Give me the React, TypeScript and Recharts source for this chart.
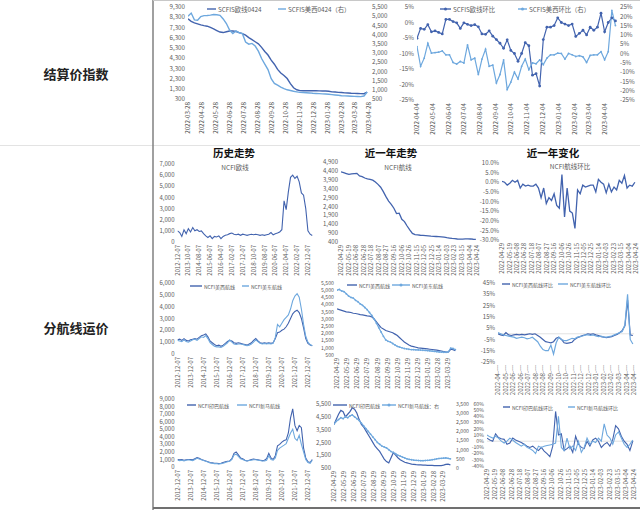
import React from 'react'
import { LineChart, Line, XAxis, YAxis, ReferenceLine } from 'recharts'

const DARK = '#4263ae'
const LIGHT = '#6ea8de'
const GRAY = '#595959'
const FONT = '"Noto Sans CJK SC", "Noto Sans", sans-serif'

// date helpers (day numbers)
const day = (s: string) => {
  const [y, m, d] = s.split('-').map(Number)
  return Date.UTC(y, m - 1, d) / 86400000
}
const fmtDay = (n: number) => new Date(n * 86400000).toISOString().slice(0, 10)
const weekly = (start: string, n: number) => Array.from({ length: n }, (_, i) => day(start) + 7 * i)
const everyMonths = (start: string, step: number, n: number) => {
  const [y, m, d] = start.split('-').map(Number)
  return Array.from({ length: n }, (_, i) => Date.UTC(y, m - 1 + step * i, d) / 86400000)
}

// ---- SCFIS settlement index ----
const scfisTicks = ['2022-03-28', '2022-04-28', '2022-05-28', '2022-06-28', '2022-07-28', '2022-08-28', '2022-09-28', '2022-10-28', '2022-11-28', '2022-12-28', '2023-01-28', '2023-02-28', '2023-03-28', '2023-04-28']
const scfisDates = weekly('2022-03-28', 57)
const scfisEu = [8150, 7900, 7750, 7650, 7550, 7480, 7420, 7300, 7150, 7000, 6850, 6800, 6880, 6950, 6950, 6900, 6800, 6700, 6550, 6300, 6100, 5900, 5700, 5350, 4950, 4600, 4100, 3700, 3200, 2850, 2600, 2300, 1800, 1400, 1200, 1120, 1100, 1100, 1100, 1110, 1100, 1090, 1080, 1080, 1060, 1000, 980, 950, 940, 900, 880, 860, 850, 840, 830, 820, 980]
const scfisUs = [5000, 5170, 4800, 4780, 4980, 5030, 5040, 5060, 5090, 5080, 5050, 4850, 4600, 4250, 4060, 4200, 4100, 4050, 3600, 3480, 3520, 3380, 3100, 2700, 2400, 2100, 1600, 1350, 1250, 1150, 1060, 1000, 960, 920, 890, 860, 850, 840, 830, 810, 800, 790, 780, 770, 760, 740, 720, 700, 680, 670, 660, 650, 640, 635, 630, 660, 880]

const chgTicks = ['2022-04-04', '2022-05-04', '2022-06-04', '2022-07-04', '2022-08-04', '2022-09-04', '2022-10-04', '2022-11-04', '2022-12-04', '2023-01-04', '2023-02-04', '2023-03-04', '2023-04-04']
const chgDates = weekly('2022-04-04', 56)
const scfisEuChg = [-5.1, -1.9, -2.2, -0.7, -3, -2.7, -3.2, -3.7, 1, 1, 0.3, -0.1, -1.9, -0.1, -0.6, -1, -0.7, -1.4, -3.7, -3.8, -2.7, -4.4, -5.5, -6.7, -8.3, -5.6, -9, -10, -12.5, -10, -6.5, -7.5, -17, -16.5, -20.5, -5.5, -1.5, -1.5, -1, 1.5, 0, -0.5, -1, -0.5, -4.5, -3.5, -2.5, -4, -1.5, -2.5, -1.5, 3, -3, 0, 1.5, 0.5]
const scfisUsChg = [3.7, -6.9, -2.5, 5.5, 0.2, 0.5, 0.7, 1.4, -0.7, -0.7, -4.8, -5.7, -4.3, -5.1, 4.6, -3.4, -2.5, -11.3, -3, 2.3, -6.9, -6.2, -15.8, -11.3, -3.4, -19.3, -15.4, -10, -13.7, -6.9, -3, -8.7, -5, -5.5, -3.4, -6, -2.5, -0.7, -0.7, 0.2, 0, -3, 0, -0.7, -1.6, -1.2, -1.8, -4.8, -1, -0.7, -0.7, 1, -3.4, 1, 23.2, 15]

// ---- NCFI history (every two months) ----
const histDates = everyMonths('2012-12-07', 2, 63)
const histTicksEu = ['2012-12-07', '2013-10-07', '2014-08-07', '2015-06-07', '2016-04-07', '2017-02-07', '2017-12-07', '2018-10-07', '2019-08-07', '2020-06-07', '2021-04-07', '2022-02-07', '2022-12-07']
const histTicks = ['2012-12-07', '2013-12-07', '2014-12-07', '2015-12-07', '2016-12-07', '2017-12-07', '2018-12-07', '2019-12-07', '2020-12-07', '2021-12-07', '2022-12-07']
const euHist = [1000, 850, 500, 1100, 750, 1200, 900, 1300, 1000, 1100, 950, 1000, 750, 550, 400, 550, 300, 500, 450, 550, 300, 500, 600, 650, 750, 800, 700, 650, 700, 600, 700, 650, 600, 650, 700, 650, 700, 650, 600, 650, 600, 650, 700, 850, 650, 750, 800, 900, 1100, 3700, 2900, 4500, 5800, 6000, 5700, 5900, 5400, 4400, 4200, 3000, 1000, 700, 580]
const usWHist = [1200, 1250, 1150, 1300, 1150, 1100, 1200, 1250, 1300, 1250, 1400, 1550, 1600, 1700, 1450, 1100, 950, 800, 700, 750, 650, 750, 900, 1050, 1150, 1100, 950, 900, 950, 900, 850, 800, 750, 850, 950, 1150, 1300, 1100, 950, 900, 950, 900, 950, 900, 950, 1300, 1800, 1850, 2000, 2100, 2300, 2600, 3000, 3400, 3600, 3700, 3500, 3000, 2200, 1300, 900, 750, 700]
const usEHist = [1150, 1100, 1050, 1200, 1050, 1000, 1100, 1200, 1250, 1150, 1300, 1450, 1400, 1550, 1300, 950, 800, 650, 600, 600, 550, 650, 800, 950, 1200, 1000, 850, 800, 850, 850, 800, 750, 700, 750, 850, 1000, 1200, 1050, 900, 850, 900, 850, 900, 850, 900, 1400, 2500, 2300, 2600, 2900, 3100, 3300, 3800, 4500, 4900, 5100, 4800, 3800, 2500, 1500, 1000, 800, 700]
const inHist = [1000, 950, 1000, 900, 950, 1000, 1000, 950, 1100, 1250, 1150, 1000, 900, 800, 700, 600, 550, 500, 500, 450, 500, 600, 700, 750, 800, 1100, 1800, 2000, 1600, 1200, 1100, 900, 800, 900, 1000, 1050, 1000, 950, 900, 850, 900, 1100, 1800, 1200, 1000, 1500, 2800, 3000, 3300, 3500, 3600, 4500, 6500, 7700, 5500, 4800, 5500, 5200, 2500, 1200, 700, 600, 1000]
const smHist = [900, 850, 900, 800, 900, 950, 900, 850, 1000, 1150, 1050, 950, 850, 750, 650, 550, 500, 450, 450, 400, 450, 500, 600, 700, 750, 1000, 1600, 1700, 1400, 1100, 1000, 850, 800, 850, 900, 950, 950, 900, 850, 800, 800, 900, 1500, 1000, 900, 1200, 2200, 2500, 2700, 2900, 3100, 3800, 4500, 5000, 3800, 3500, 4200, 3000, 2000, 1000, 600, 500, 900]

// ---- NCFI last year (weekly) ----
const yearDates = weekly('2022-04-29', 52)
const yearTicks = ['2022-04-29', '2022-05-19', '2022-06-08', '2022-06-28', '2022-07-18', '2022-08-07', '2022-08-27', '2022-09-16', '2022-10-06', '2022-10-26', '2022-11-15', '2022-12-05', '2022-12-25', '2023-01-14', '2023-02-03', '2023-02-23', '2023-03-15', '2023-04-04', '2023-04-24']
const monthTicks = ['2022-04-29', '2022-05-29', '2022-06-29', '2022-07-29', '2022-08-29', '2022-09-29', '2022-10-29', '2022-11-29', '2022-12-29', '2023-01-29', '2023-02-28', '2023-03-29']
const euYear = [4350, 4300, 4250, 4200, 4230, 4250, 4260, 4120, 4080, 4000, 3950, 3920, 3880, 3780, 3640, 3480, 3230, 2950, 2700, 2520, 2300, 2000, 2020, 1680, 1550, 1300, 1080, 880, 820, 800, 780, 770, 760, 745, 730, 720, 710, 700, 690, 670, 640, 620, 600, 590, 570, 560, 565, 575, 580, 570, 555, 545]
const euChg = [0.5, 0, -1.5, -0.5, 1, 0, 1, -3, -1, -2, -1.5, -2, -2, -1, -3, -8, -3, -11, -8, -9.5, -6, -12, -13.5, 4, -18, -3, -15, -16, -24, -4, -6, -1.5, -2.5, -2, -1.5, -1.5, -5, 1.5, 0, -1, -5.5, -1, -5, -2.5, -4, 1, -0.5, 3.5, -3, -1.5, -2, 0]
const usWYear = [3700, 3650, 3600, 3550, 3500, 3480, 3450, 3400, 3380, 3350, 3300, 3280, 3250, 3220, 3200, 3150, 3000, 2800, 2600, 2400, 2300, 2200, 2150, 2100, 2050, 1950, 1850, 1700, 1550, 1400, 1300, 1200, 1120, 1080, 1040, 1000, 980, 960, 940, 920, 900, 880, 860, 840, 810, 780, 740, 700, 720, 900, 870, 800]
const usEYear = [5000, 5050, 4950, 4900, 4750, 4600, 4500, 4450, 4300, 4200, 4050, 3950, 3800, 3650, 3450, 3250, 3000, 2700, 2400, 2100, 1800, 1550, 1450, 1400, 1300, 1200, 1100, 1050, 1000, 950, 930, 900, 880, 870, 860, 850, 840, 830, 820, 810, 790, 770, 750, 730, 710, 700, 690, 690, 720, 980, 950, 880]
const usWChg = [0, -1, -1.5, 1, -1, -1.5, -1, -0.5, -1, -0.5, -1, -0.5, 0, -0.5, 0, -1.5, -3, -5, -7, -7.5, -8, -7, -4, -3, -5, -8, -8.5, -8, -7.5, -5, -3.5, -2.5, -1.5, -1, 0, -0.5, 0, -1, -1.5, -2.5, -3, -3.5, -3, -2.5, -1.5, -0.5, 1, 3, 7, 30, -1, -1.5]
const usEChg = [1, 0, -1, -1.5, -2, -2.5, -3, -4, -3.5, -3, -3.5, -4.5, -4, -3, -5, -7, -11, -14, -15, -15, -10, -18, -8, -3, -5, -6, -6, -5, -4, -4.5, -3, -2.5, -2, -1, -1, -1.5, -1, -2, -2.5, -2, -3, -3, -2.5, -2, -1, 0, 1, 2, 8, 35, -5, -9]
const inYear = [3900, 4300, 4700, 5000, 4900, 4500, 4700, 4900, 5200, 5100, 4800, 4300, 3900, 3700, 3400, 3100, 2800, 2500, 2200, 2000, 1800, 1500, 1200, 1000, 900, 1300, 1700, 1500, 1300, 1150, 1050, 950, 900, 850, 800, 780, 760, 750, 740, 730, 720, 710, 700, 700, 690, 680, 680, 690, 720, 780, 800, 750]
const smYear = [2400, 2550, 2650, 2750, 2700, 2800, 2750, 2850, 2900, 2800, 2700, 2600, 2450, 2300, 2150, 2000, 1850, 1700, 1550, 1400, 1300, 1200, 1150, 1100, 1000, 900, 850, 780, 700, 650, 600, 550, 500, 470, 450, 430, 420, 410, 400, 400, 410, 420, 430, 450, 470, 500, 520, 530, 540, 550, 530, 500]
const inChg = [5, 2, 0, 12, 6, 4, 3, -5, -3, 5, 2, 0, -2, -5, -8, -10, -8, -12, -15, -10, -16, -20, -25, -8, 48, 10, 12, -15, -12, -8, -18, 8, -5, -10, -12, 0, -8, 2, 5, 0, -10, -5, -2, -8, 3, 25, 20, 8, 0, -5, -15, 0]
const smChg = [10, 7, 5, 8, 5, 0, -3, 0, 5, 2, -2, -5, -8, -5, -10, -12, -15, -20, -8, -10, -8, -7, -6, -5, -3, 40, -10, -15, 5, -12, -8, -15, 0, -18, -10, 5, -5, 0, -2, 5, 0, 28, 10, 5, -5, 10, 15, 5, -5, -10, -5, 2]

const range = (a: number, b: number, s: number) => {
  const out: number[] = []
  for (let v = a; v <= b + 1e-9; v += s) out.push(Math.round(v * 10) / 10)
  return out
}
const num = (v: number) => v.toLocaleString('en-US')
const pct = (v: number) => `${v}%`
const pct1 = (v: number) => `${v.toFixed(1)}%`

type Axis = { domain: [number, number]; ticks: number[]; fmt: (v: number) => string; width: number; fs?: number }
type Series = { values: number[]; color: string; right?: boolean; dot?: number; width?: number }
type PanelProps = {
  plot: [number, number, number, number]
  xs: number[]
  xDomain: [string, string]
  xTicks: string[]
  xFmt?: (s: string) => string
  yl: Axis
  yr?: Axis
  series: Series[]
  zero?: boolean
  fs?: number
}

function Panel({ plot, xs, xDomain, xTicks, xFmt, yl, yr, series, zero, fs = 6 }: PanelProps) {
  const [l, t, r, b] = plot
  const data = xs.map((x, i) => {
    const row: Record<string, number> = { x }
    series.forEach((s, j) => { row['s' + j] = s.values[i] })
    return row
  })
  const margin = { top: t, left: l - yl.width, right: 640 - r - (yr ? yr.width : 0), bottom: 510 - b - 2 }
  const tickStyle = (a: Axis) => ({ fontSize: a.fs ?? fs, fill: GRAY, fontFamily: FONT })
  const DateTick = (p: any) => {
    const label = xFmt ? xFmt(fmtDay(p.payload.value)) : fmtDay(p.payload.value)
    return (
      <text x={p.x} y={p.y} transform={`rotate(-90 ${p.x} ${p.y})`} textAnchor="end" dy="0.35em" fontSize={fs} fill={GRAY} fontFamily={FONT}>
        {label}
      </text>
    )
  }
  return (
    <div style={{ position: 'absolute', left: 0, top: 0 }}>
      <LineChart width={640} height={510} data={data} margin={margin}>
        <XAxis dataKey="x" type="number" domain={[day(xDomain[0]), day(xDomain[1])]} ticks={xTicks.map(day)} interval={0} height={2} axisLine={false} tickLine={false} tickSize={3} tickMargin={0} tick={DateTick} allowDataOverflow />
        <YAxis yAxisId="l" type="number" domain={yl.domain} ticks={yl.ticks} interval={0} width={yl.width} tickFormatter={yl.fmt} axisLine={false} tickLine={false} tickSize={3} tickMargin={0} tick={tickStyle(yl)} allowDataOverflow />
        {yr && (
          <YAxis yAxisId="r" orientation="right" type="number" domain={yr.domain} ticks={yr.ticks} interval={0} width={yr.width} tickFormatter={yr.fmt} axisLine={false} tickLine={false} tickSize={3} tickMargin={0} tick={tickStyle(yr)} allowDataOverflow />
        )}
        {zero && <ReferenceLine yAxisId="l" y={0} stroke="#d9d9d9" strokeWidth={0.8} />}
        {series.map((s, j) => (
          <Line
            key={j}
            yAxisId={s.right ? 'r' : 'l'}
            dataKey={'s' + j}
            type="linear"
            stroke={s.color}
            strokeWidth={s.width ?? 1.2}
            dot={s.dot ? { r: s.dot, fill: s.color, stroke: s.color, strokeWidth: 0 } : false}
            isAnimationActive={false}
          />
        ))}
      </LineChart>
    </div>
  )
}

function Key({ x, y, color, label, marker = false, sw = 12, fs = 5.5 }: { x: number; y: number; color: string; label: string; marker?: boolean; sw?: number; fs?: number }) {
  return (
    <div style={{ position: 'absolute', left: x, top: y - 5, height: 10, display: 'flex', alignItems: 'center', whiteSpace: 'nowrap', fontSize: fs, color: GRAY, fontFamily: FONT }}>
      <svg width={sw} height={6} style={{ marginRight: 2 }}>
        <line x1={0} y1={3} x2={sw} y2={3} stroke={color} strokeWidth={1.4} />
        {marker && <circle cx={sw / 2} cy={3} r={1.5} fill={color} />}
      </svg>
      {label}
    </div>
  )
}

function Caption({ cx, y, text, size, bold = false, color = GRAY }: { cx: number; y: number; text: string; size: number; bold?: boolean; color?: string }) {
  return (
    <div style={{ position: 'absolute', left: cx - 60, top: y - size * 0.7, width: 120, textAlign: 'center', fontSize: size, fontWeight: bold ? 700 : 400, color, fontFamily: FONT, whiteSpace: 'nowrap', lineHeight: 1.4 }}>
      {text}
    </div>
  )
}

export default function App() {
  const histEnd: [string, string] = ['2012-12-07', '2023-04-28']
  const yearEnd: [string, string] = ['2022-04-29', '2023-04-24']
  const monthEnd: [string, string] = ['2022-04-29', '2023-04-29']
  return (
    <div style={{ position: 'absolute', left: 0, top: 0, width: 640, height: 510, background: '#fff', overflow: 'hidden', fontFamily: FONT }}>
      <svg width={640} height={510} style={{ position: 'absolute', left: 0, top: 0 }}>
        <line x1={0} y1={145.5} x2={640} y2={145.5} stroke="#e3e3e3" />
        <line x1={153} y1={0} x2={153} y2={510} stroke="#808080" strokeWidth={1.5} />
        <line x1={153} y1={0.5} x2={640} y2={0.5} stroke="#c8c8c8" />
        <line x1={153} y1={508} x2={640} y2={508} stroke="#707070" strokeWidth={2} />
      </svg>

      <Caption cx={76} y={74} text="结算价指数" size={13} bold color="#222" />
      <Caption cx={76} y={328} text="分航线运价" size={13} bold color="#222" />

      {/* SCFIS level */}
      <Panel
        plot={[188, 7, 369, 99]}
        xs={scfisDates}
        xDomain={['2022-03-28', '2023-04-28']}
        xTicks={scfisTicks}
        fs={6.2}
        yl={{ domain: [300, 9300], ticks: range(300, 9300, 1000), fmt: num, width: 30 }}
        yr={{ domain: [500, 5500], ticks: range(500, 5500, 500), fmt: num, width: 26 }}
        series={[
          { values: scfisEu, color: DARK, width: 1.4 },
          { values: scfisUs, color: LIGHT, right: true, width: 1.4 },
        ]}
      />
      <Key x={207} y={9} color={DARK} label="SCFIS欧线0424" sw={9} fs={6.3} />
      <Key x={278} y={9} color={LIGHT} label="SCFIS美西0424（右）" sw={8} fs={6.3} />

      {/* SCFIS change */}
      <Panel
        plot={[417, 7, 617, 100]}
        xs={chgDates}
        xDomain={['2022-04-04', '2023-04-27']}
        xTicks={chgTicks}
        fs={6.2}
        yl={{ domain: [-25, 5], ticks: range(-25, 5, 5), fmt: pct, width: 24 }}
        yr={{ domain: [-25, 25], ticks: range(-25, 25, 5), fmt: pct, width: 22 }}
        series={[
          { values: scfisEuChg, color: DARK, dot: 1.4, width: 1.2 },
          { values: scfisUsChg, color: LIGHT, right: true, dot: 0.9, width: 1.2 },
        ]}
      />
      <Key x={440} y={9} color={DARK} label="SCFIS欧线环比" marker sw={11} fs={6.3} />
      <Key x={518} y={9} color={LIGHT} label="SCFIS美西环比（右）" marker sw={9} fs={6.3} />

      {/* column heads */}
      <Caption cx={234} y={153} text="历史走势" size={10.5} bold color="#111" />
      <Caption cx={391} y={153} text="近一年走势" size={10.5} bold color="#111" />
      <Caption cx={553} y={153} text="近一年变化" size={10.5} bold color="#111" />

      {/* row 1: Europe */}
      <Panel
        plot={[177.5, 164, 313, 242]}
        xs={histDates}
        xDomain={histEnd}
        xTicks={histTicksEu}
        yl={{ domain: [0, 7000], ticks: range(0, 7000, 1000), fmt: num, width: 22 }}
        series={[{ values: euHist, color: DARK, width: 1.1 }]}
      />
      <Caption cx={235} y={168} text="NCFI欧线" size={6.5} />
      <Panel
        plot={[341, 162, 477, 242]}
        xs={yearDates}
        xDomain={yearEnd}
        xTicks={yearTicks}
        yl={{ domain: [400, 4900], ticks: range(400, 4900, 500), fmt: num, width: 22 }}
        series={[{ values: euYear, color: DARK, width: 1.3 }]}
      />
      <Caption cx={398} y={168} text="NCFI航线" size={6.5} />
      <Panel
        plot={[502, 163, 636, 240]}
        xs={yearDates}
        xDomain={yearEnd}
        xTicks={yearTicks}
        yl={{ domain: [-30, 10], ticks: range(-30, 10, 5), fmt: pct1, width: 28 }}
        series={[{ values: euChg, color: DARK, width: 1.3 }]}
      />
      <Caption cx={570} y={167} text="NCFI航线环比" size={6.5} />

      {/* row 2: US West / US East */}
      <Panel
        plot={[177.5, 283, 313, 354]}
        xs={histDates}
        xDomain={histEnd}
        xTicks={histTicks}
        yl={{ domain: [0, 6000], ticks: range(0, 6000, 1000), fmt: num, width: 22 }}
        series={[
          { values: usWHist, color: DARK, width: 1.1 },
          { values: usEHist, color: LIGHT, width: 1.1 },
        ]}
      />
      <Key x={190} y={286} color={DARK} label="NCFI美西航线" sw={12} fs={5} />
      <Key x={242} y={286} color={LIGHT} label="NCFI美东航线" sw={7} fs={5} />
      <Panel
        plot={[337, 283, 458, 355]}
        xs={yearDates}
        xDomain={monthEnd}
        xTicks={monthTicks}
        yl={{ domain: [500, 5500], ticks: range(500, 5500, 500), fmt: num, width: 20, fs: 5.2 }}
        series={[
          { values: usWYear, color: DARK, width: 1.2 },
          { values: usEYear, color: LIGHT, dot: 0.9, width: 1.2 },
        ]}
      />
      <Key x={347} y={285} color={DARK} label="NCFI美西航线" sw={10} fs={5} />
      <Key x={392} y={285} color={LIGHT} label="NCFI美东航线" marker sw={18} fs={5} />
      <Panel
        plot={[498, 283, 634, 362]}
        xs={yearDates}
        xDomain={yearEnd}
        xTicks={yearTicks}
        xFmt={(s) => s.slice(0, 8) + '…'}
        zero
        yl={{ domain: [-25, 45], ticks: range(-25, 45, 10), fmt: pct, width: 18 }}
        series={[
          { values: usWChg, color: DARK, width: 1.2 },
          { values: usEChg, color: LIGHT, width: 1.2 },
        ]}
      />
      <Key x={502} y={284} color={DARK} label="NCFI美西航线环比" sw={8} fs={5} />
      <Key x={558} y={284} color={LIGHT} label="NCFI美东航线环比" sw={10} fs={5} />

      {/* row 3: India-Pakistan / Singapore-Malaysia */}
      <Panel
        plot={[177.5, 399, 313, 467]}
        xs={histDates}
        xDomain={histEnd}
        xTicks={histTicks}
        yl={{ domain: [0, 9000], ticks: range(0, 9000, 1000), fmt: num, width: 22 }}
        series={[
          { values: inHist, color: DARK, width: 1.1 },
          { values: smHist, color: LIGHT, width: 1.1 },
        ]}
      />
      <Key x={187} y={405} color={DARK} label="NCFI印巴航线" sw={9} fs={5} />
      <Key x={237} y={405} color={LIGHT} label="NCFI新马航线" sw={10} fs={5} />
      <Panel
        plot={[334, 404, 453, 468]}
        xs={yearDates}
        xDomain={monthEnd}
        xTicks={monthTicks}
        yl={{ domain: [500, 5500], ticks: range(500, 5500, 1000), fmt: num, width: 20 }}
        yr={{ domain: [0, 3500], ticks: range(0, 3500, 500), fmt: num, width: 16, fs: 5.2 }}
        series={[
          { values: inYear, color: DARK, width: 1.2 },
          { values: smYear, color: LIGHT, right: true, dot: 0.9, width: 1.2 },
        ]}
      />
      <Key x={333} y={405} color={DARK} label="NCFI印巴航线" sw={14} fs={5} />
      <Key x={382} y={405} color={LIGHT} label="NCFI新马航线：右" marker sw={14} fs={5} />
      <Panel
        plot={[487, 404, 634, 466]}
        xs={yearDates}
        xDomain={yearEnd}
        xTicks={yearTicks}
        zero
        yl={{ domain: [-40, 60], ticks: range(-40, 60, 10), fmt: pct, width: 14, fs: 5.2 }}
        series={[
          { values: inChg, color: DARK, width: 1.1 },
          { values: smChg, color: LIGHT, width: 1.1 },
        ]}
      />
      <Key x={503} y={407} color={DARK} label="NCFI印巴航线环比" sw={7} fs={5} />
      <Key x={568} y={407} color={LIGHT} label="NCFI新马航线环比" sw={7} fs={5} />
    </div>
  )
}
